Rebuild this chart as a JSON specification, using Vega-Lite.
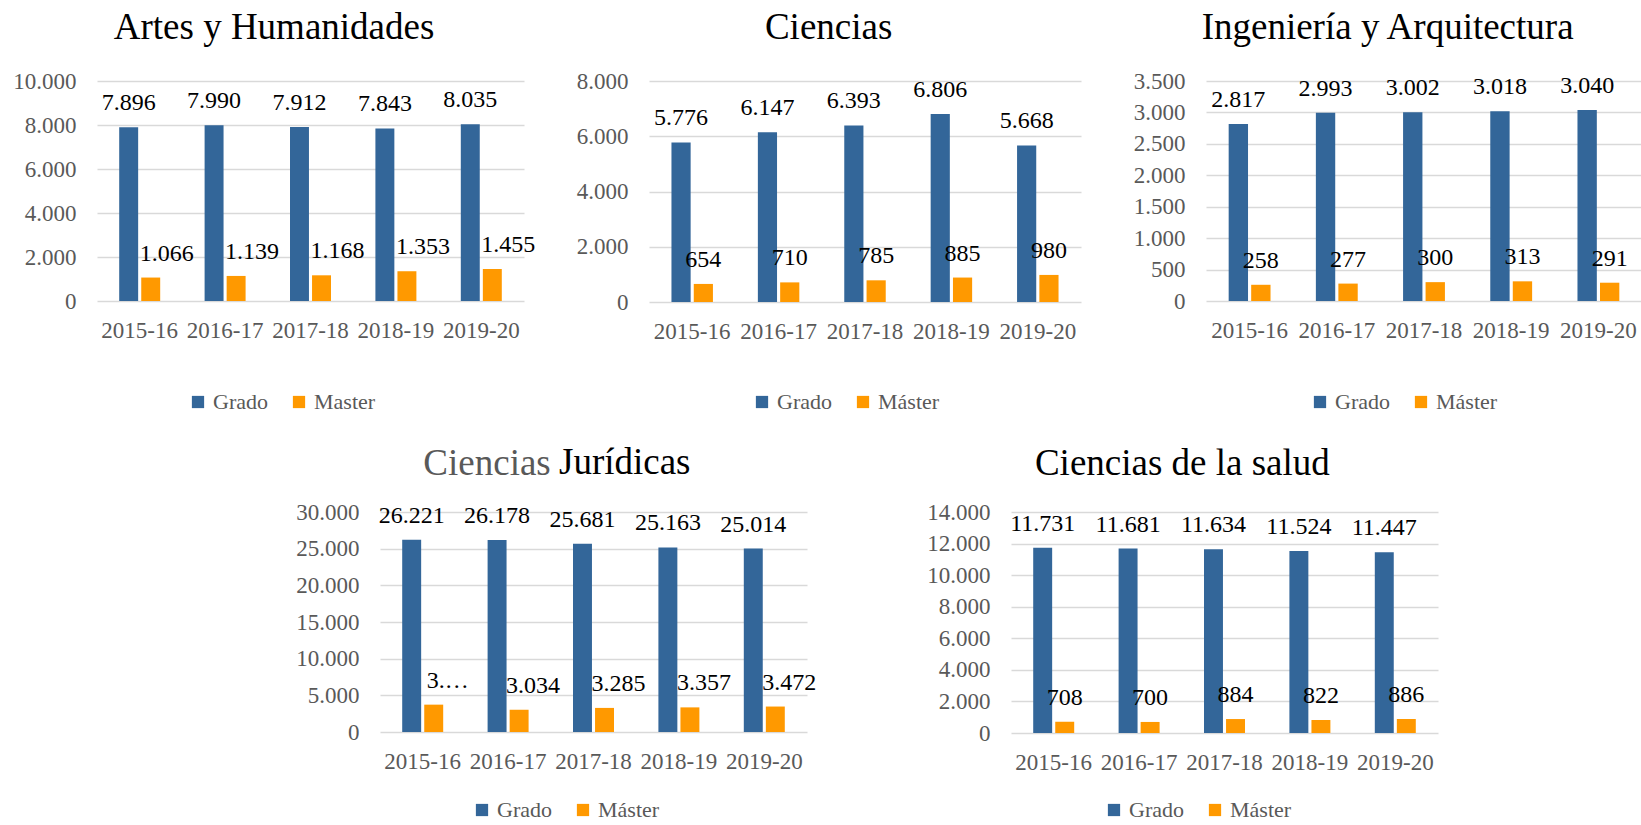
{
  "$schema": "https://vega.github.io/schema/vega-lite/v6.json",
  "padding": {"left": 12, "top": 9, "right": 0, "bottom": 0},
  "autosize": {"type": "pad"},
  "background": "white",
  "config": {
    "locale": {"number": {"decimal": ",", "thousands": ".", "grouping": [3], "currency": ["", "€"]}},
    "view": {"stroke": null},
    "font": "Liberation Serif, serif",
    "title": {"font": "Liberation Serif, serif", "fontSize": 37, "fontWeight": "normal", "color": "#000000", "offset": 23, "anchor": "middle", "frame": "bounds"},
    "axis": {"labelFont": "Liberation Serif, serif", "labelFontSize": 23, "labelColor": "#595959", "ticks": false, "title": null},
    "axisX": {"domain": false, "grid": false, "labelAngle": 0, "labelPadding": 18},
    "axisY": {"domain": false, "grid": true, "gridColor": "#d9d9d9", "gridWidth": 1.5, "labelPadding": 21},
    "legend": {"orient": "none", "direction": "horizontal", "symbolType": "square", "symbolSize": 150, "symbolStrokeWidth": 0, "labelFont": "Liberation Serif, serif", "labelFontSize": 22, "labelColor": "#595959", "columnPadding": 20, "labelOffset": 4, "padding": 0, "title": null}
  },
  "spacing": 31,
  "resolve": {"scale": {"color": "independent", "x": "independent", "y": "independent", "xOffset": "independent"}, "legend": {"color": "independent"}},
  "vconcat": [
    {
      "hconcat": [
        {
          "width": 427, "height": 220,
          "title": {"text": "Artes y Humanidades"},
          "data": {"values": [
            {"curso": "2015-16", "nivel": "Grado", "valor": 7896},
            {"curso": "2015-16", "nivel": "Master", "valor": 1066},
            {"curso": "2016-17", "nivel": "Grado", "valor": 7990},
            {"curso": "2016-17", "nivel": "Master", "valor": 1139},
            {"curso": "2017-18", "nivel": "Grado", "valor": 7912},
            {"curso": "2017-18", "nivel": "Master", "valor": 1168},
            {"curso": "2018-19", "nivel": "Grado", "valor": 7843},
            {"curso": "2018-19", "nivel": "Master", "valor": 1353},
            {"curso": "2019-20", "nivel": "Grado", "valor": 8035},
            {"curso": "2019-20", "nivel": "Master", "valor": 1455}
          ]},
          "encoding": {
            "x": {"field": "curso", "type": "nominal", "sort": null, "scale": {"paddingInner": 0.52, "paddingOuter": 0.26}},
            "xOffset": {"field": "nivel", "type": "nominal", "sort": null, "scale": {"paddingInner": 0.14, "paddingOuter": 0}},
            "y": {"field": "valor", "type": "quantitative", "scale": {"domain": [0, 10000], "nice": false}, "axis": {"values": [0, 2000, 4000, 6000, 8000, 10000], "format": ",d"}}
          },
          "layer": [
            {"mark": {"type": "bar"}, "encoding": {"color": {"field": "nivel", "type": "nominal", "sort": null, "scale": {"domain": ["Grado", "Master"], "range": ["#336699", "#FF9900"]}, "legend": {"legendX": 90, "legendY": 310}}}},
            {"transform": [{"filter": "datum.nivel == 'Grado'"}], "mark": {"type": "text", "font": "Liberation Serif, serif", "fontSize": 24, "color": "#000000", "baseline": "alphabetic", "dy": -17}, "encoding": {"text": {"field": "valor", "type": "quantitative", "format": ",d"}}},
            {"transform": [{"filter": "datum.nivel != 'Grado'"}], "mark": {"type": "text", "font": "Liberation Serif, serif", "fontSize": 24, "color": "#000000", "baseline": "alphabetic", "dy": -17, "dx": 16}, "encoding": {"text": {"field": "valor", "type": "quantitative", "format": ",d"}}}
          ]
        },
        {
          "width": 432, "height": 221,
          "title": {"text": "Ciencias"},
          "data": {"values": [
            {"curso": "2015-16", "nivel": "Grado", "valor": 5776},
            {"curso": "2015-16", "nivel": "Máster", "valor": 654},
            {"curso": "2016-17", "nivel": "Grado", "valor": 6147},
            {"curso": "2016-17", "nivel": "Máster", "valor": 710},
            {"curso": "2017-18", "nivel": "Grado", "valor": 6393},
            {"curso": "2017-18", "nivel": "Máster", "valor": 785},
            {"curso": "2018-19", "nivel": "Grado", "valor": 6806},
            {"curso": "2018-19", "nivel": "Máster", "valor": 885},
            {"curso": "2019-20", "nivel": "Grado", "valor": 5668},
            {"curso": "2019-20", "nivel": "Máster", "valor": 980}
          ]},
          "encoding": {
            "x": {"field": "curso", "type": "nominal", "sort": null, "scale": {"paddingInner": 0.52, "paddingOuter": 0.26}},
            "xOffset": {"field": "nivel", "type": "nominal", "sort": null, "scale": {"paddingInner": 0.14, "paddingOuter": 0}},
            "y": {"field": "valor", "type": "quantitative", "scale": {"domain": [0, 8000], "nice": false}, "axis": {"values": [0, 2000, 4000, 6000, 8000], "format": ",d"}}
          },
          "layer": [
            {"mark": {"type": "bar"}, "encoding": {"color": {"field": "nivel", "type": "nominal", "sort": null, "scale": {"domain": ["Grado", "Máster"], "range": ["#336699", "#FF9900"]}, "legend": {"legendX": 102, "legendY": 310}}}},
            {"mark": {"type": "text", "font": "Liberation Serif, serif", "fontSize": 24, "color": "#000000", "baseline": "alphabetic", "dy": -17}, "encoding": {"text": {"field": "valor", "type": "quantitative", "format": ",d"}}}
          ]
        },
        {
          "width": 436, "height": 220,
          "title": {"text": "Ingeniería y Arquitectura"},
          "data": {"values": [
            {"curso": "2015-16", "nivel": "Grado", "valor": 2817},
            {"curso": "2015-16", "nivel": "Máster", "valor": 258},
            {"curso": "2016-17", "nivel": "Grado", "valor": 2993},
            {"curso": "2016-17", "nivel": "Máster", "valor": 277},
            {"curso": "2017-18", "nivel": "Grado", "valor": 3002},
            {"curso": "2017-18", "nivel": "Máster", "valor": 300},
            {"curso": "2018-19", "nivel": "Grado", "valor": 3018},
            {"curso": "2018-19", "nivel": "Máster", "valor": 313},
            {"curso": "2019-20", "nivel": "Grado", "valor": 3040},
            {"curso": "2019-20", "nivel": "Máster", "valor": 291}
          ]},
          "encoding": {
            "x": {"field": "curso", "type": "nominal", "sort": null, "scale": {"paddingInner": 0.52, "paddingOuter": 0.26}},
            "xOffset": {"field": "nivel", "type": "nominal", "sort": null, "scale": {"paddingInner": 0.14, "paddingOuter": 0}},
            "y": {"field": "valor", "type": "quantitative", "scale": {"domain": [0, 3500], "nice": false}, "axis": {"values": [0, 500, 1000, 1500, 2000, 2500, 3000, 3500], "format": ",d"}}
          },
          "layer": [
            {"mark": {"type": "bar"}, "encoding": {"color": {"field": "nivel", "type": "nominal", "sort": null, "scale": {"domain": ["Grado", "Máster"], "range": ["#336699", "#FF9900"]}, "legend": {"legendX": 103, "legendY": 310}}}},
            {"mark": {"type": "text", "font": "Liberation Serif, serif", "fontSize": 24, "color": "#000000", "baseline": "alphabetic", "dy": -17}, "encoding": {"text": {"field": "valor", "type": "quantitative", "format": ",d"}}}
          ]
        }
      ],
      "spacing": 125,
      "bounds": "flush",
      "resolve": {"scale": {"color": "independent", "x": "independent", "y": "independent", "xOffset": "independent"}, "legend": {"color": "independent"}}
    },
    {
      "title": {"text": "Jurídicas", "anchor": "start", "frame": "group", "offset": 0, "dx": 462, "dy": 37},
      "hconcat": [
        {
          "width": 79, "height": 220,
          "data": {"values": []},
          "mark": {"type": "point"}
        },
        {
          "width": 427, "height": 220,
          "title": {"text": "Ciencias", "color": "#595959", "dx": -69, "offset": 18},
          "data": {"values": [
            {"curso": "2015-16", "nivel": "Grado", "valor": 26221, "etiqueta": "26.221"},
            {"curso": "2015-16", "nivel": "Máster", "valor": 3730, "etiqueta": "3.…"},
            {"curso": "2016-17", "nivel": "Grado", "valor": 26178, "etiqueta": "26.178"},
            {"curso": "2016-17", "nivel": "Máster", "valor": 3034, "etiqueta": "3.034"},
            {"curso": "2017-18", "nivel": "Grado", "valor": 25681, "etiqueta": "25.681"},
            {"curso": "2017-18", "nivel": "Máster", "valor": 3285, "etiqueta": "3.285"},
            {"curso": "2018-19", "nivel": "Grado", "valor": 25163, "etiqueta": "25.163"},
            {"curso": "2018-19", "nivel": "Máster", "valor": 3357, "etiqueta": "3.357"},
            {"curso": "2019-20", "nivel": "Grado", "valor": 25014, "etiqueta": "25.014"},
            {"curso": "2019-20", "nivel": "Máster", "valor": 3472, "etiqueta": "3.472"}
          ]},
          "encoding": {
            "x": {"field": "curso", "type": "nominal", "sort": null, "scale": {"paddingInner": 0.52, "paddingOuter": 0.26}},
            "xOffset": {"field": "nivel", "type": "nominal", "sort": null, "scale": {"paddingInner": 0.14, "paddingOuter": 0}},
            "y": {"field": "valor", "type": "quantitative", "scale": {"domain": [0, 30000], "nice": false}, "axis": {"values": [0, 5000, 10000, 15000, 20000, 25000, 30000], "format": ",d"}}
          },
          "layer": [
            {"mark": {"type": "bar"}, "encoding": {"color": {"field": "nivel", "type": "nominal", "sort": null, "scale": {"domain": ["Grado", "Máster"], "range": ["#336699", "#FF9900"]}, "legend": {"legendX": 91, "legendY": 287}}}},
            {"transform": [{"filter": "datum.nivel == 'Grado'"}], "mark": {"type": "text", "font": "Liberation Serif, serif", "fontSize": 24, "color": "#000000", "baseline": "alphabetic", "dy": -17}, "encoding": {"text": {"field": "etiqueta", "type": "nominal"}}},
            {"transform": [{"filter": "datum.nivel != 'Grado'"}], "mark": {"type": "text", "font": "Liberation Serif, serif", "fontSize": 24, "color": "#000000", "baseline": "alphabetic", "dy": -17, "dx": 14}, "encoding": {"text": {"field": "etiqueta", "type": "nominal"}}}
          ]
        },
        {
          "width": 427, "height": 221,
          "title": {"text": "Ciencias de la salud", "offset": 18},
          "data": {"values": [
            {"curso": "2015-16", "nivel": "Grado", "valor": 11731},
            {"curso": "2015-16", "nivel": "Máster", "valor": 708},
            {"curso": "2016-17", "nivel": "Grado", "valor": 11681},
            {"curso": "2016-17", "nivel": "Máster", "valor": 700},
            {"curso": "2017-18", "nivel": "Grado", "valor": 11634},
            {"curso": "2017-18", "nivel": "Máster", "valor": 884},
            {"curso": "2018-19", "nivel": "Grado", "valor": 11524},
            {"curso": "2018-19", "nivel": "Máster", "valor": 822},
            {"curso": "2019-20", "nivel": "Grado", "valor": 11447},
            {"curso": "2019-20", "nivel": "Máster", "valor": 886}
          ]},
          "encoding": {
            "x": {"field": "curso", "type": "nominal", "sort": null, "scale": {"paddingInner": 0.52, "paddingOuter": 0.26}},
            "xOffset": {"field": "nivel", "type": "nominal", "sort": null, "scale": {"paddingInner": 0.14, "paddingOuter": 0}},
            "y": {"field": "valor", "type": "quantitative", "scale": {"domain": [0, 14000], "nice": false}, "axis": {"values": [0, 2000, 4000, 6000, 8000, 10000, 12000, 14000], "format": ",d"}}
          },
          "layer": [
            {"mark": {"type": "bar"}, "encoding": {"color": {"field": "nivel", "type": "nominal", "sort": null, "scale": {"domain": ["Grado", "Máster"], "range": ["#336699", "#FF9900"]}, "legend": {"legendX": 92, "legendY": 287}}}},
            {"mark": {"type": "text", "font": "Liberation Serif, serif", "fontSize": 24, "color": "#000000", "baseline": "alphabetic", "dy": -17}, "encoding": {"text": {"field": "valor", "type": "quantitative", "format": ",d"}}}
          ]
        }
      ],
      "spacing": 204,
      "bounds": "flush",
      "resolve": {"scale": {"color": "independent", "x": "independent", "y": "independent", "xOffset": "independent"}, "legend": {"color": "independent"}}
    }
  ]
}
